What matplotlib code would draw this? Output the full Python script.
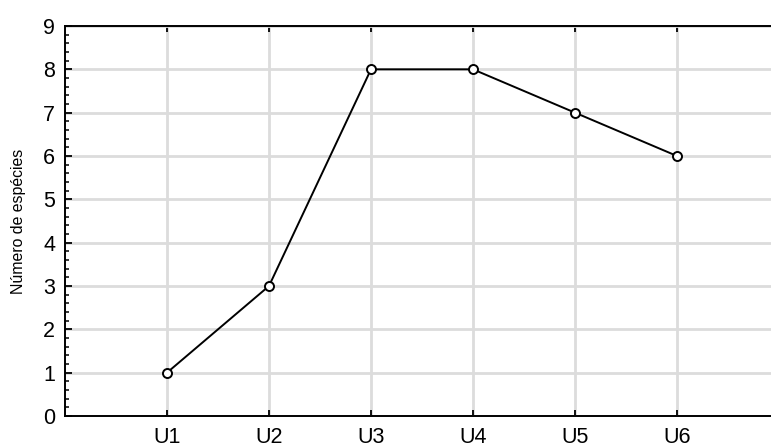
import matplotlib
matplotlib.use("Agg")
import matplotlib.pyplot as plt
from matplotlib.ticker import MultipleLocator

categories = ["U1", "U2", "U3", "U4", "U5", "U6"]
species_count = [1, 3, 8, 8, 7, 6]

plt.rcParams["font.family"] = ["Liberation Sans", "DejaVu Sans"]

fig = plt.figure(figsize=(7.71, 4.47), dpi=100)
ax = fig.add_axes([65 / 771, 1 - 416 / 447, 1 - 65 / 771, (416 - 26) / 447])

x = list(range(1, len(categories) + 1))
ax.plot(x, species_count, color="black", lw=1.4, marker="o", ms=6.5,
        mfc="white", mec="black", mew=1.4, zorder=3, clip_on=False)

ax.set_xlim(0, (771 - 65) / 102)
ax.set_ylim(0, 9)
ax.set_xticks(x)
ax.set_xticklabels(categories)
ax.yaxis.set_major_locator(MultipleLocator(1))
ax.yaxis.set_minor_locator(MultipleLocator(0.2))

ax.grid(True, which="major", color="#dcdcdc", lw=2.0, ls="-")
ax.set_axisbelow(True)

ax.spines["right"].set_visible(False)
for s in ("left", "bottom", "top"):
    ax.spines[s].set_linewidth(1.4)

ax.tick_params(axis="y", which="major", direction="in", length=5, width=1.3,
               labelsize=15.5, pad=7)
ax.tick_params(axis="y", which="minor", direction="in", length=3, width=1.1)
ax.tick_params(axis="x", which="major", direction="in", length=4, width=1.3,
               labelsize=15.5, pad=8, top=True)

ax.set_ylabel("Número de espécies", fontsize=11.4, labelpad=12)

fig.savefig("out.png", dpi=100)
